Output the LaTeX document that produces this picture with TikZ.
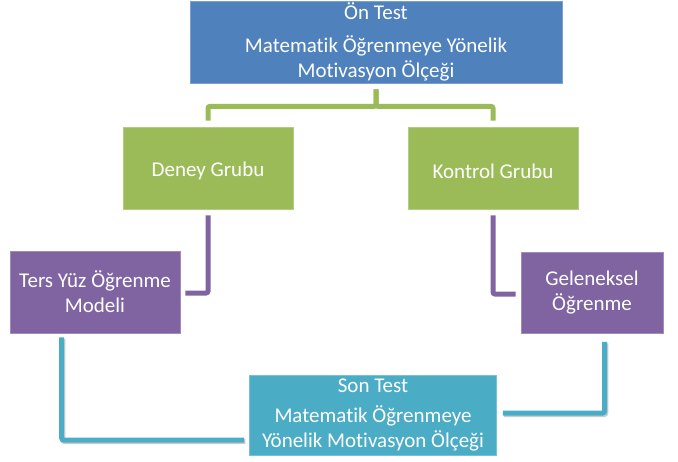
\documentclass[tikz,border=0pt]{standalone}
\usepackage{fontspec}
\setmainfont{Carlito}[Ligatures=CommonOff]
\usetikzlibrary{calc}
\definecolor{obBlue}{HTML}{4F81BD}
\definecolor{obGreen}{HTML}{9BBB59}
\definecolor{obPurple}{HTML}{8064A2}
\definecolor{obTeal}{HTML}{4BACC6}
% lower a label inside its box without changing the box size
\newcommand{\lowertext}[1]{\raisebox{-3pt}[\height][\depth]{#1}}
\begin{document}
\begin{tikzpicture}[x=1pt,y=-1pt,
  box/.style={rectangle, inner sep=0pt, align=center, text=white,
    font=\fontsize{21}{25}\selectfont, line width=0.7pt},
  bluebox/.style={box, fill=obBlue, draw=obBlue!75!white},
  greenbox/.style={box, fill=obGreen, draw=obGreen!75!white},
  purplebox/.style={box, fill=obPurple, draw=obPurple!75!white},
  tealbox/.style={box, fill=obTeal, draw=obTeal!75!white},
  link/.style={line width=5pt, rounded corners=2pt},
  glink/.style={link, draw=obGreen},
  plink/.style={link, draw=obPurple},
  tlink/.style={link, draw=obTeal,
    preaction={draw=black!45, opacity=0.45, line width=5pt,
      transform canvas={shift={(1.2pt,-1.6pt)}}}},
]
\useasboundingbox (0,0) rectangle (678,461);

% boxes
\node[bluebox, minimum width=372pt, minimum height=82pt] (pre) at (376,42)
  {Ön Test\\[8pt]Matematik Öğrenmeye Yönelik\\Motivasyon Ölçeği};
\node[greenbox, minimum width=170pt, minimum height=82pt] (deney) at (208,168)
  {\lowertext{Deney Grubu}};
\node[greenbox, minimum width=170pt, minimum height=82pt] (kontrol) at (493,168)
  {\lowertext{Kontrol Grubu}};
\node[purplebox, minimum width=170pt, minimum height=82pt] (flip) at (95,292)
  {Ters Yüz Öğrenme\\Modeli};
\node[purplebox, minimum width=142pt, minimum height=81pt] (trad) at (592,293)
  {Geleneksel\\Öğrenme};
\node[tealbox, minimum width=247pt, minimum height=80pt] (post) at (373,415)
  {Son Test\\[5pt]Matematik Öğrenmeye\\Yönelik Motivasyon Ölçeği};

% pre-test to groups
\draw[glink] ($(pre.south)+(0,6)$) -- ++(0,17) -| ($(deney.north)+(0,-6)$);
\draw[glink] ($(pre.south)+(0,6)$) -- ++(0,17) -| ($(kontrol.north)+(0,-6)$);

% groups to teaching methods
\draw[plink] ($(deney.south)+(0,6)$) |- ($(flip.east)+(5,1)$);
\draw[plink] ($(kontrol.south)+(0,6)$) |- ($(trad.west)+(-5,1)$);

% teaching methods to post-test
\draw[tlink] ($(flip.south west)+(52,4)$) |- ($(post.west)+(-5,25)$);
\draw[tlink] ($(trad.south west)+(84,8)$) |- ($(post.east)+(6,-2)$);
\end{tikzpicture}
\end{document}
